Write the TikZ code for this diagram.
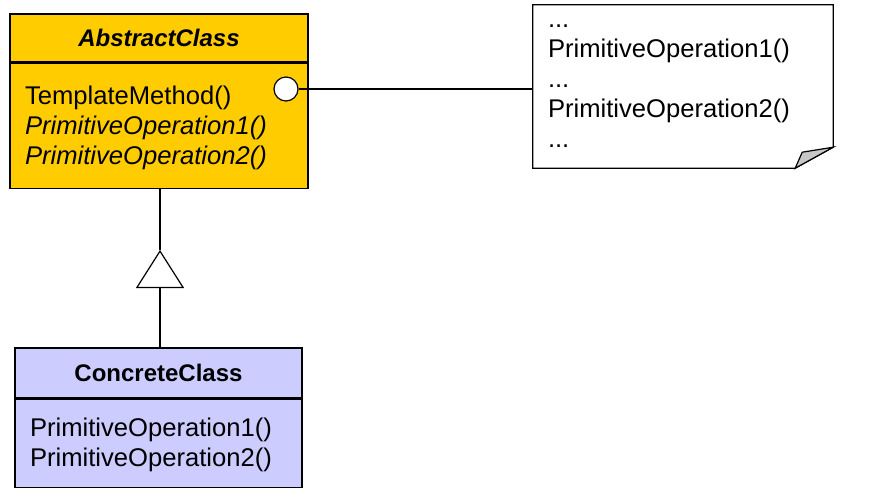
\documentclass[tikz,border=0pt]{standalone}
\usepackage{fontspec}
\setmainfont{Liberation Sans}
\usetikzlibrary{arrows.meta,positioning,shapes.geometric}
\definecolor{tplYellow}{HTML}{FFCC00}
\definecolor{tplLavender}{HTML}{CCCCFF}
\tikzset{
  tplLine/.style={line width=1.2pt, draw=black},
  tplClassHead/.style={tplLine, rectangle, align=center, inner sep=0pt, font=\fontsize{24}{30}\selectfont\bfseries},
  tplClassBody/.style={tplLine, rectangle, align=left, inner ysep=0pt, inner xsep=15pt, font=\fontsize{25.6}{30}\selectfont},
  tplNote/.style={rectangle, align=left, inner ysep=0pt, inner xsep=15pt, text width=270pt, minimum width=300pt, minimum height=163pt, font=\fontsize{25.6}{30}\selectfont},
  tplHook/.style={tplLine, circle, fill=white, minimum size=24pt, inner sep=0pt},
  tplInherit/.style={tplLine, -{Triangle[open, width=48pt, length=38pt]}}
}
\begin{document}
\begin{tikzpicture}[x=1pt, y=-1pt]
  \useasboundingbox (0,0) rectangle (874,496);
  % abstract class
  \node[tplClassHead, fill=tplYellow, minimum width=298pt, minimum height=48pt] (abstractName) at (159,38) {\itshape AbstractClass};
  \node[tplClassBody, fill=tplYellow, text width=268pt, minimum height=125pt, below=0pt of abstractName] (abstractOps)
    {\rule{0pt}{22pt}TemplateMethod()\\ \itshape PrimitiveOperation1()\\ \itshape PrimitiveOperation2()};
  \node[tplHook] (hook) at (286,89) {};
  % concrete class
  \node[tplClassHead, fill=tplLavender, minimum width=287pt, minimum height=50pt] (concreteName) at (158.5,373) {ConcreteClass};
  \node[tplClassBody, fill=tplLavender, text width=257pt, minimum height=88pt, below=0pt of concreteName] (concreteOps)
    {\rule{0pt}{22pt}PrimitiveOperation1()\\ PrimitiveOperation2()};
  % note
  \node[tplNote] (note) at (683,86.5) {...\\ PrimitiveOperation1()\\ ...\\ PrimitiveOperation2()\\ ...};
  \draw[tplLine] (note.north west) -- (note.north east) -- ([yshift=21pt]note.south east)
    -- ([xshift=-38pt]note.south east) -- (note.south west) -- cycle;
  \draw[tplLine, fill=gray!45] ([xshift=-38pt]note.south east) -- ([xshift=-31pt, yshift=16pt]note.south east)
    -- ([yshift=21pt]note.south east) -- cycle;
  % connectors
  \coordinate (genTip) at (160,250);
  \draw[tplLine] (hook.east) -- (hook.east -| note.west);
  \draw[tplLine] (abstractOps.south -| genTip) -- (genTip);
  \draw[tplInherit] (concreteName.north -| genTip) -- (genTip);
\end{tikzpicture}
\end{document}
